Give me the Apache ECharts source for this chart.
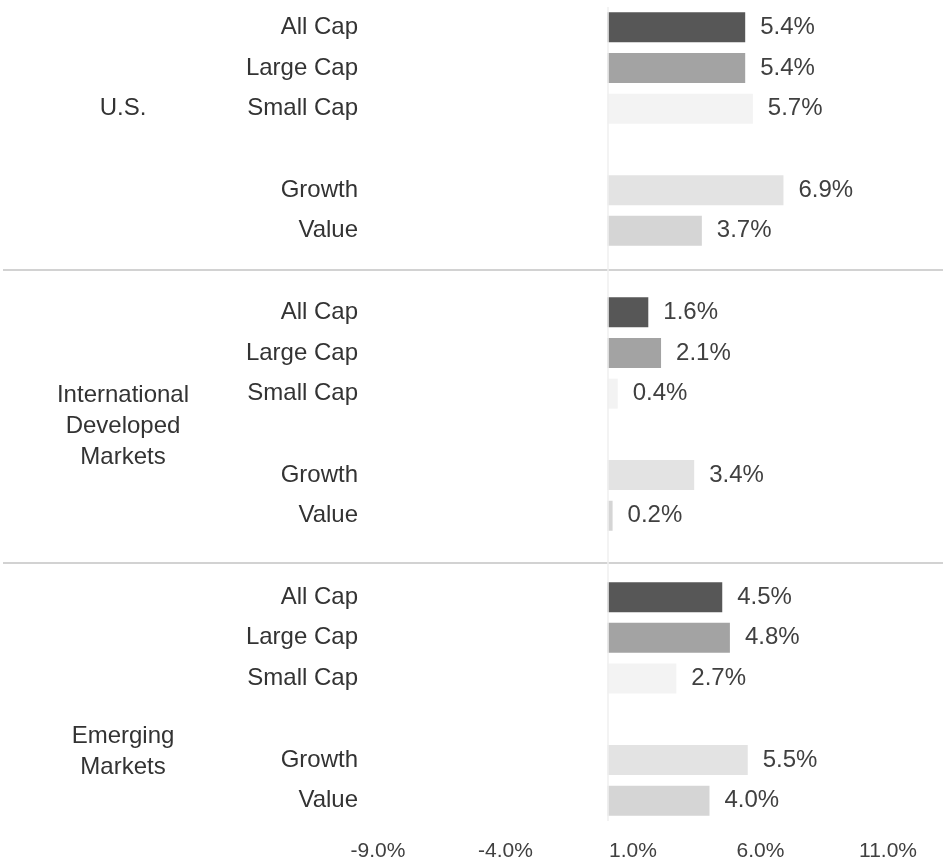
<!DOCTYPE html>
<html>
<head>
<meta charset="utf-8">
<script src="https://cdn.jsdelivr.net/npm/echarts@6/dist/echarts.min.js"></script>
<style>
html,body{margin:0;padding:0;background:#fff;}
#chart{width:943px;height:862px;}
</style>
</head>
<body>
<div id="chart"></div>
<script>
// ---- data ----
const categories = ['All Cap', 'Large Cap', 'Small Cap', 'Growth', 'Value'];
const groupNames = ['U.S.', 'International\nDeveloped\nMarkets', 'Emerging\nMarkets'];
const usValues = [5.4, 5.4, 5.7, 6.9, 3.7];
const intlValues = [1.6, 2.1, 0.4, 3.4, 0.2];
const emValues = [4.5, 4.8, 2.7, 5.5, 4.0];
const xMin = -9.0, xMax = 11.0, xStep = 5.0;

// ---- styles ----
const barColors = ['#575757', '#a3a3a3', '#f3f3f3', '#e3e3e3', '#d5d5d5'];
const FONT = 'Liberation Sans, Arial, sans-serif';

// build slots: each group = 3 bars, gap, 2 bars ; separator slot between groups
const groupsVals = [usValues, intlValues, emValues];
const yLabels = [];
const barData = [];
groupsVals.forEach((vals, gi) => {
  categories.forEach((c, ci) => {
    if (ci === 3) { yLabels.push(''); barData.push('-'); }
    yLabels.push(c);
    barData.push({ value: vals[ci], itemStyle: { color: barColors[ci] } });
  });
  if (gi < groupsVals.length - 1) { yLabels.push(''); barData.push('-'); }
});

const chart = echarts.init(document.getElementById('chart'), null, { renderer: 'canvas' });
chart.setOption({
  animation: false,
  backgroundColor: '#ffffff',
  grid: { left: 378, right: 55, top: 7, bottom: 40, containLabel: false },
  xAxis: {
    type: 'value', min: xMin, max: xMax, interval: xStep,
    axisLine: { show: false }, axisTick: { show: false }, splitLine: { show: false },
    axisLabel: {
      margin: 20, color: '#404040', fontSize: 21, fontFamily: FONT,
      formatter: v => v.toFixed(1) + '%'
    }
  },
  yAxis: {
    type: 'category', inverse: true, data: yLabels,
    axisLine: { show: false }, axisTick: { show: false }, splitLine: { show: false },
    axisLabel: { margin: 20, color: '#333333', fontSize: 24, fontFamily: FONT, interval: 0 }
  },
  series: [{
    type: 'bar', data: barData, barWidth: 30,
    label: {
      show: true, position: 'right', distance: 15, color: '#404040',
      fontSize: 24, fontFamily: FONT,
      formatter: p => Number(p.value).toFixed(1) + '%'
    },
    markLine: {
      silent: true, symbol: 'none', label: { show: false },
      lineStyle: { color: '#efefef', width: 1.5, type: 'solid' },
      data: [{ xAxis: 0 }]
    },
    z: 3
  }]
});

// group labels and separators placed from axis scale
function slotY(s) {
  const a = chart.convertToPixel({ yAxisIndex: 0 }, Math.floor(s));
  const b = chart.convertToPixel({ yAxisIndex: 0 }, Math.floor(s) + 1);
  return a + (b - a) * (s - Math.floor(s));
}
const labelSlots = [2, 9.8, 17.8];
const sepSlots = [5.95, 13.15];
const graphics = [];
groupNames.forEach((g, i) => {
  graphics.push({
    type: 'text', x: 123, y: slotY(labelSlots[i]),
    style: {
      text: g, fill: '#333333', fontSize: 24, fontFamily: FONT,
      textAlign: 'center', textVerticalAlign: 'middle', lineHeight: 31
    }
  });
});
sepSlots.forEach(s => {
  const y = Math.round(slotY(s));
  graphics.push({
    type: 'line', shape: { x1: 3, y1: y, x2: 943, y2: y },
    style: { stroke: '#d2d2d2', lineWidth: 2 }
  });
});
chart.setOption({ graphic: graphics });
</script>
</body>
</html>
